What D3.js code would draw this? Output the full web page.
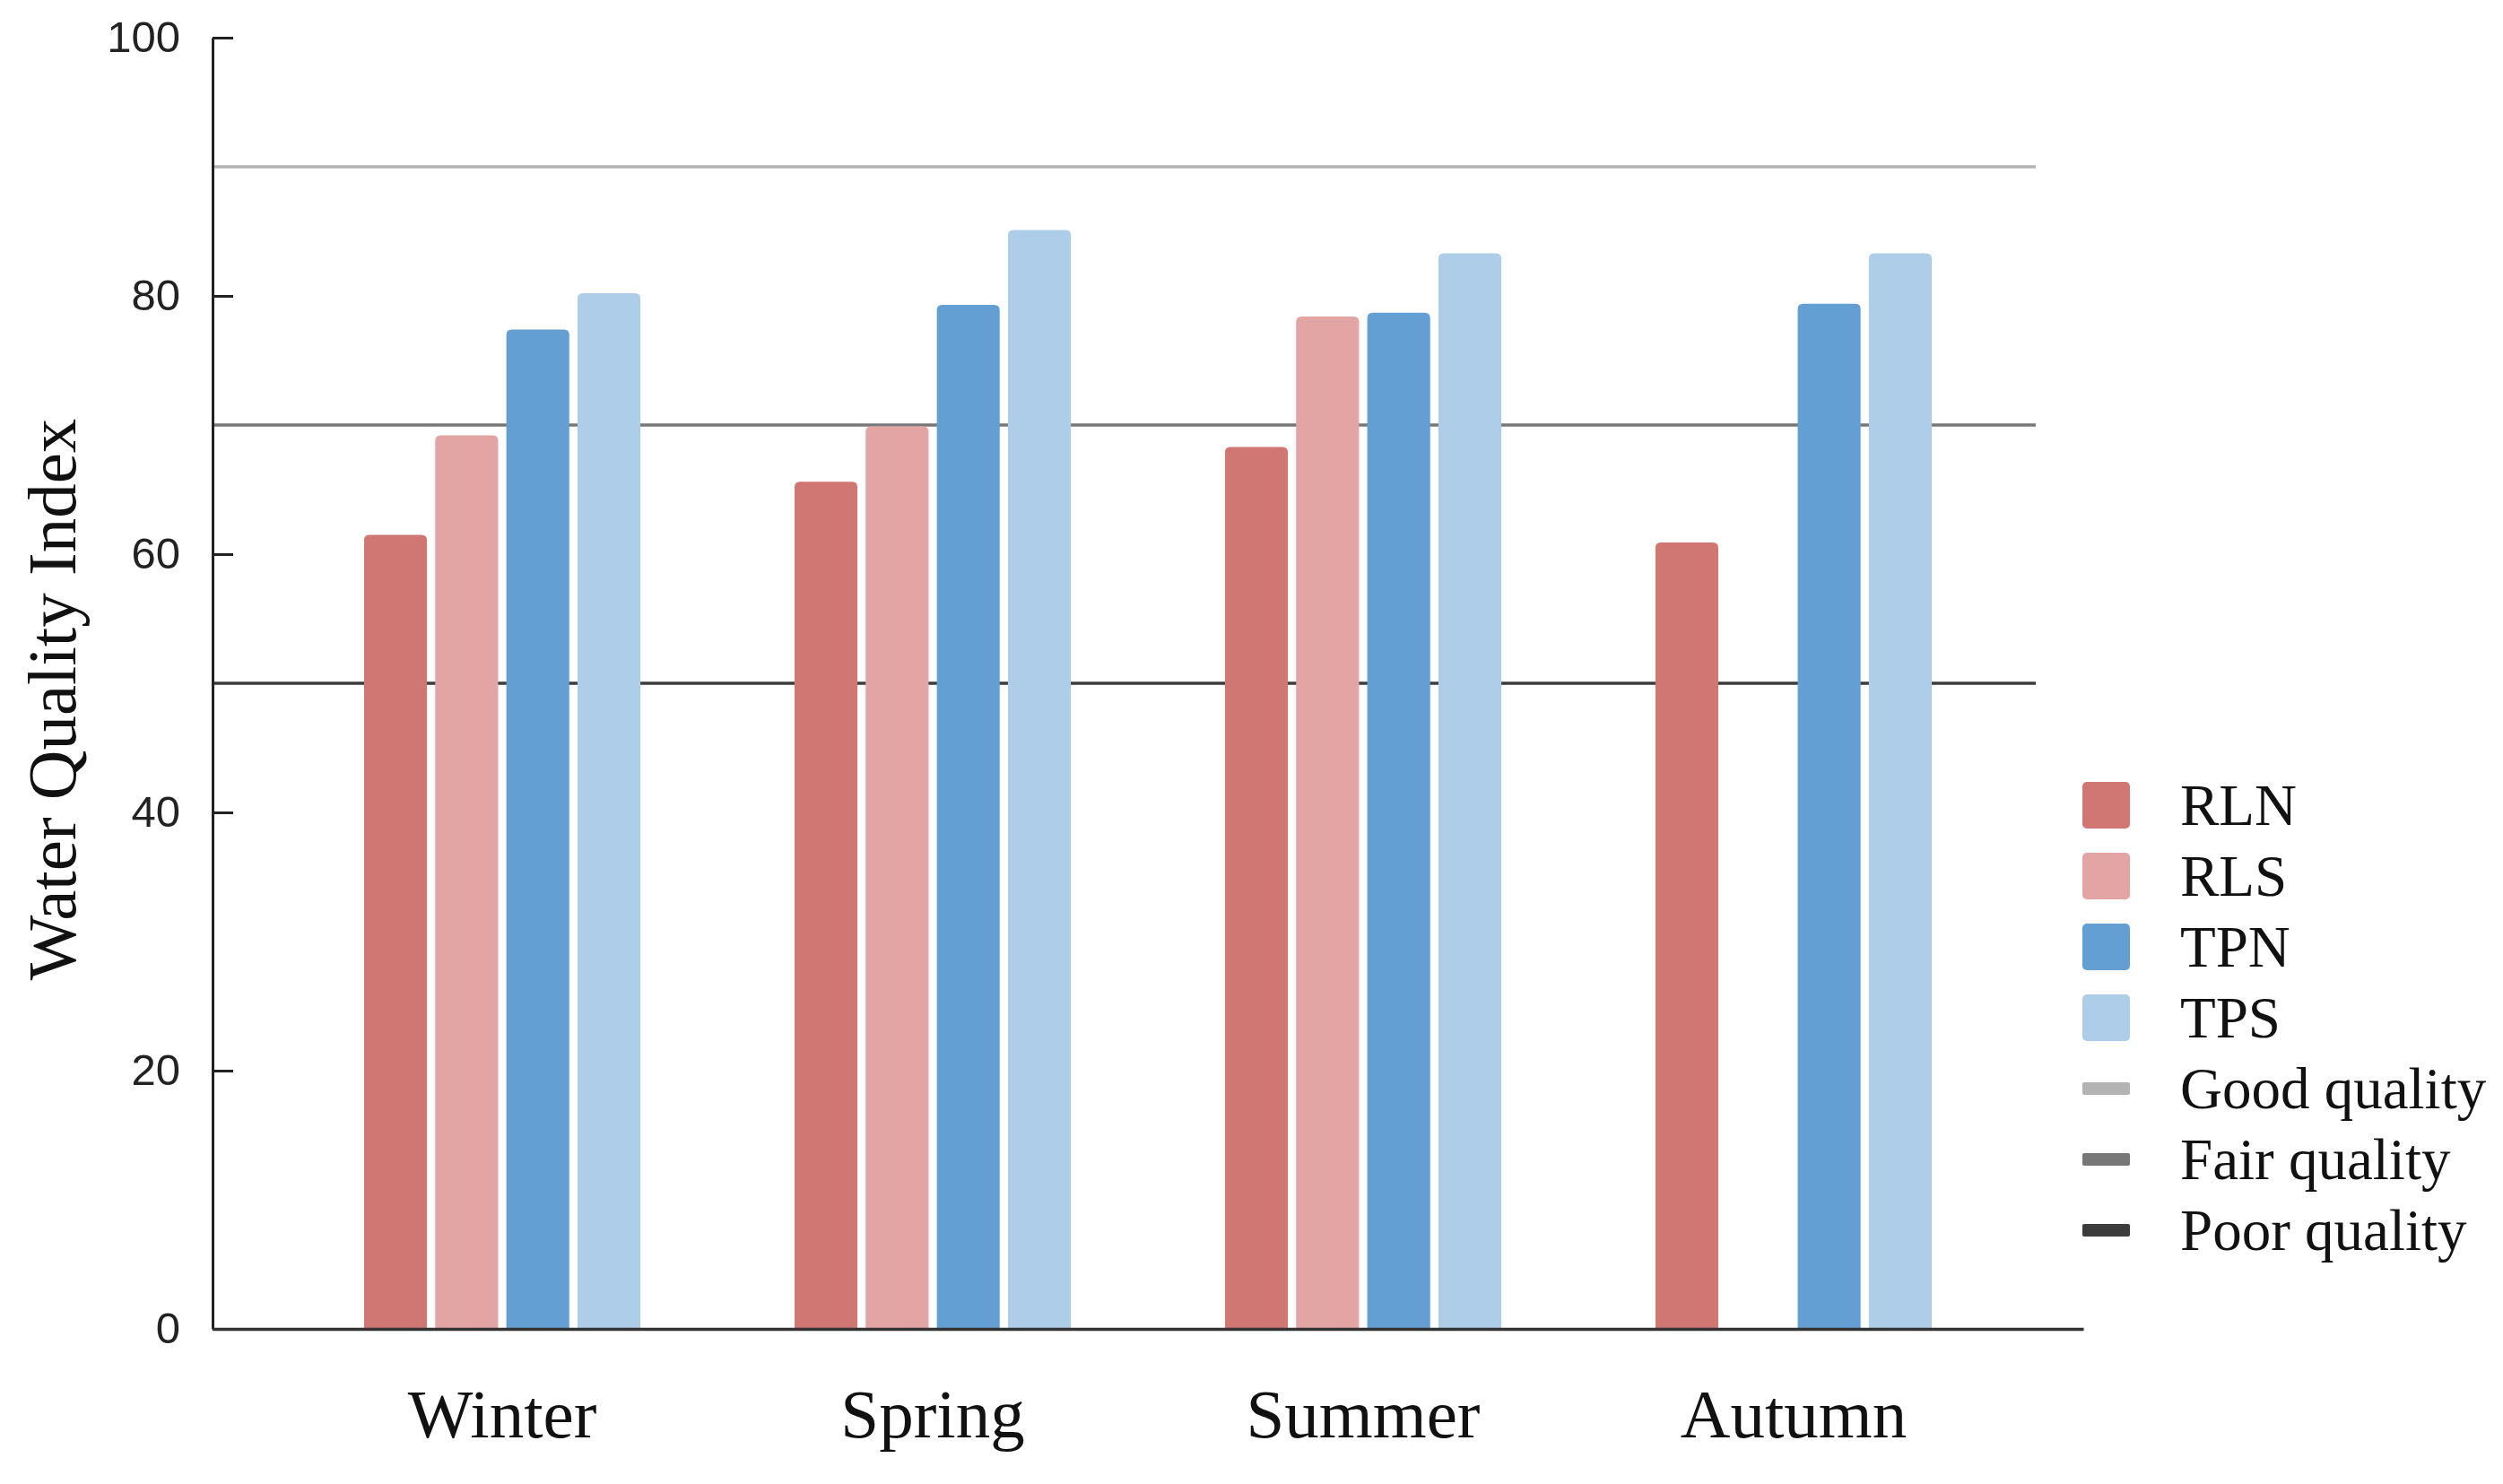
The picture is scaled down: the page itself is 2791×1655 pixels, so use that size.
<!DOCTYPE html>
<html>
<head>
<meta charset="utf-8">
<script src="https://cdn.jsdelivr.net/npm/d3@7"></script>
<style>
  body { margin: 0; background: #fff; }
  svg { display: block; }
</style>
</head>
<body>
<script>
var seasons = ['Winter', 'Spring', 'Summer', 'Autumn'];
var sites = ['RLN', 'RLS', 'TPN', 'TPS'];
var siteColors = ['#d07673', '#e3a4a4', '#649fd3', '#aecde9'];

// water quality index per site, one value per season (null = no sample)
var RLN = [61.5, 65.6, 68.3, 60.9];
var RLS = [69.2, 69.9, 78.4, null];
var TPN = [77.4, 79.3, 78.7, 79.4];
var TPS = [80.2, 85.1, 83.3, 83.3];

var thresholdNames = ['Good quality', 'Fair quality', 'Poor quality'];
var thresholdValues = [90, 70, 50];
var thresholdColors = ['#b3b3b3', '#777777', '#3c3c3c'];

var yTicks = [0, 20, 40, 60, 80, 100];

var width = 2791, height = 1655;
var plotLeft = 237, plotRight = 2323, plotTop = 42, plotBottom = 1482;

var svg = d3.select('body').append('svg')
    .attr('width', width)
    .attr('height', height);

svg.append('rect').attr('width', width).attr('height', height).attr('fill', '#fff');

var y = d3.scaleLinear().domain([0, 100]).range([plotBottom, plotTop]);

var x0 = d3.scaleBand().domain(seasons).range([plotLeft, plotRight])
    .paddingInner(0.358).paddingOuter(0.352);

var x1 = d3.scaleBand().domain(sites).range([0, x0.bandwidth()])
    .paddingInner(0.116);

var values = {RLN: RLN, RLS: RLS, TPN: TPN, TPS: TPS};
var color = d3.scaleOrdinal().domain(sites).range(siteColors);

// threshold lines
svg.append('g').selectAll('line')
    .data(thresholdValues)
    .enter().append('line')
    .attr('x1', plotLeft).attr('x2', 2270)
    .attr('y1', function(d) { return y(d); })
    .attr('y2', function(d) { return y(d); })
    .attr('stroke', function(d, i) { return thresholdColors[i]; })
    .attr('stroke-width', 3.5);

// bars with rounded tops
function barPath(x, yTop, w, yBase, r) {
    r = Math.min(r, w / 2, yBase - yTop);
    return 'M' + x + ',' + yBase +
        'V' + (yTop + r) +
        'Q' + x + ',' + yTop + ' ' + (x + r) + ',' + yTop +
        'H' + (x + w - r) +
        'Q' + (x + w) + ',' + yTop + ' ' + (x + w) + ',' + (yTop + r) +
        'V' + yBase + 'Z';
}

var groups = svg.append('g').selectAll('g')
    .data(seasons)
    .enter().append('g')
    .attr('transform', function(d) { return 'translate(' + x0(d) + ',0)'; });

groups.selectAll('path')
    .data(function(s, i) {
        return sites.map(function(k) { return {site: k, value: values[k][i]}; })
            .filter(function(d) { return d.value != null; });
    })
    .enter().append('path')
    .attr('d', function(d) {
        return barPath(x1(d.site), y(d.value), x1.bandwidth(), y(0), 6);
    })
    .attr('fill', function(d) { return color(d.site); });

// y axis, ticks pointing inward
var yAxis = svg.append('g')
    .attr('transform', 'translate(' + plotLeft + ',0)')
    .call(d3.axisLeft(y).tickValues(yTicks).tickSizeInner(-23).tickSizeOuter(0).tickPadding(36));
yAxis.select('.domain').attr('stroke', '#222').attr('stroke-width', 3);
yAxis.selectAll('.tick line').attr('stroke', '#222').attr('stroke-width', 3);
yAxis.selectAll('.tick text')
    .attr('fill', '#222')
    .style('font-family', '"Liberation Sans", Arial, sans-serif')
    .style('font-size', '49px');

// x axis
var xAxis = svg.append('g')
    .attr('transform', 'translate(0,' + plotBottom + ')')
    .call(d3.axisBottom(x0).tickSize(0).tickPadding(66));
xAxis.select('.domain').attr('stroke', '#333').attr('stroke-width', 3.5);
xAxis.selectAll('.tick text')
    .attr('fill', '#111')
    .style('font-family', '"Liberation Serif", "Times New Roman", serif')
    .style('font-size', '77px');

// y title
svg.append('text')
    .attr('transform', 'translate(84,780) rotate(-90)')
    .attr('text-anchor', 'middle')
    .style('font-family', '"Liberation Serif", "Times New Roman", serif')
    .style('font-size', '77px')
    .attr('fill', '#111')
    .text('Water Quality Index');

// legend
var legendItems = sites.map(function(s, i) { return {name: s, color: siteColors[i], type: 'box'}; })
    .concat(thresholdNames.map(function(s, i) { return {name: s, color: thresholdColors[i], type: 'line'}; }));

var legend = svg.append('g').attr('transform', 'translate(2322,898)');
var item = legend.selectAll('g')
    .data(legendItems)
    .enter().append('g')
    .attr('transform', function(d, i) { return 'translate(0,' + (i * 79) + ')'; });

item.filter(function(d) { return d.type === 'box'; })
    .append('rect')
    .attr('x', 0).attr('y', -26).attr('width', 53).attr('height', 52)
    .attr('rx', 5)
    .attr('fill', function(d) { return d.color; });

item.filter(function(d) { return d.type === 'line'; })
    .append('rect')
    .attr('x', 0).attr('y', -7).attr('width', 53).attr('height', 14)
    .attr('rx', 2)
    .attr('fill', function(d) { return d.color; });

item.append('text')
    .attr('x', 109).attr('y', 22)
    .style('font-family', '"Liberation Serif", "Times New Roman", serif')
    .style('font-size', '65px')
    .attr('fill', '#111')
    .text(function(d) { return d.name; });
</script>
</body>
</html>
